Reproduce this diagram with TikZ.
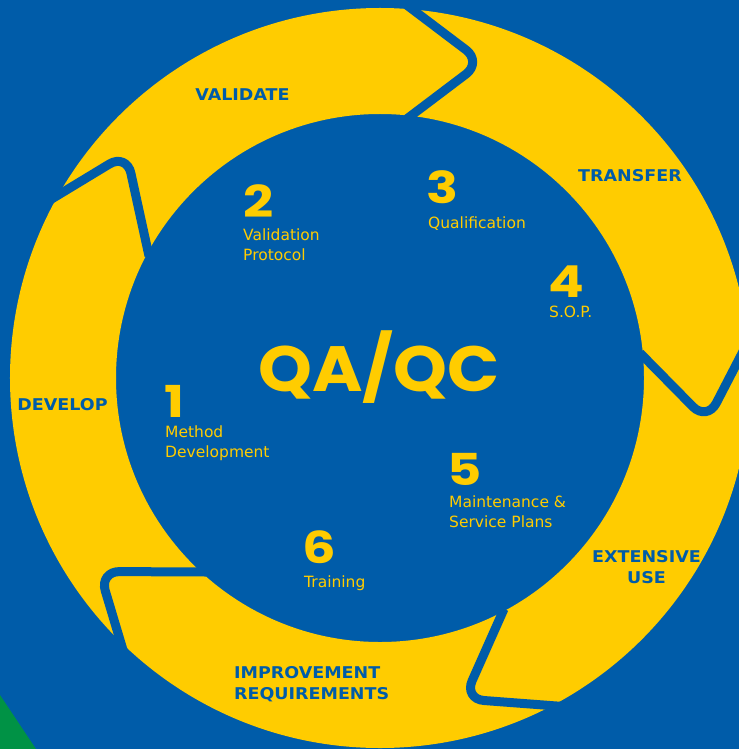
\documentclass[tikz,border=0pt]{standalone}
\usepackage{fontspec}
\setmainfont{DejaVu Sans}
\newfontfamily\ringfont{DejaVu Sans}[FakeStretch=1.08]
\newfontfamily\numfont{Poppins}[FakeStretch=1.2]
\newfontfamily\titlefont{Poppins}[FakeStretch=1.07]
\usetikzlibrary{calc}
\definecolor{bg}{RGB}{0,92,169}
\definecolor{yel}{RGB}{255,204,0}
\definecolor{grn}{RGB}{0,146,69}
\begin{document}
\begin{tikzpicture}[x=1bp,y=-1bp,
  gap/.style={draw=bg,line width=9bp,rounded corners=20bp},
  ringlab/.style={text=bg,inner sep=0pt,font=\ringfont\bfseries\fontsize{16.2bp}{21bp}\selectfont},
  num/.style={text=yel,inner sep=0pt,anchor=base west,font=\numfont\bfseries\fontsize{44bp}{44bp}\selectfont},
  txt/.style={text=yel,inner sep=0pt,anchor=base west,align=left,font=\fontsize{15.5bp}{19.5bp}\selectfont}]
\useasboundingbox (0,0) rectangle (739,749);
\begin{scope}
\clip (0,0) rectangle (739,749);
\fill[bg] (0,0) rectangle (739,749);
\fill[grn] (0,695) -- (36,749) -- (0,749) -- cycle;
\coordinate (c) at (380,378);
\fill[yel,even odd rule] (c) circle[radius=370bp] (c) circle[radius=264bp];
\draw[gap] (404,3) -- (482,62) -- (404,121);
\draw[gap] (751,336) -- (707,421) -- (640,353);
\draw[gap] (570,707) -- (464,699) -- (504,609);
\draw[gap] (206,572) -- (99.5,571.5) -- (126,660);
\draw[gap] (50,200) -- (126.6,153.6) -- (149,256);
\end{scope}
% ring labels
\node[ringlab,anchor=base] (validate) at (242.5,100.7) {VALIDATE};
\node[ringlab,anchor=base] (transfer) at (630,181.7) {TRANSFER};
\node[ringlab,anchor=base] (develop) at (62.5,410.7) {DEVELOP};
\node[ringlab,anchor=base,align=center] (extensive) at (646.5,583.7) {EXTENSIVE\\USE};
\node[ringlab,anchor=base west,align=left] (improve) at (234,699) {IMPROVEMENT\\REQUIREMENTS};
% centre title
\node[text=yel,inner sep=0pt,anchor=base west,font=\titlefont\bfseries\fontsize{64bp}{64bp}\selectfont] (qaqc) at (258,391) {QA/QC};
% numbers
\node[num] (n1) at (164,417) {1};
\node[num] (n2) at (243,217) {2};
\node[num] (n3) at (426,203) {3};
\node[num] (n4) at (548,297) {4};
\node[num] (n5) at (447,485) {5};
\node[num] (n6) at (302,563) {6};
% texts
\node[txt] (t1) at (165,457.3) {Method\\Development};
\node[txt] (t2) at (243,260) {Validation\\Protocol};
\node[txt] (t3) at (428,228) {Qualification};
\node[txt] (t4) at (549,317) {S.O.P.};
\node[txt] (t5) at (449,527.3) {Maintenance \&\\Service Plans};
\node[txt] (t6) at (304,587) {Training};
\end{tikzpicture}
\end{document}
